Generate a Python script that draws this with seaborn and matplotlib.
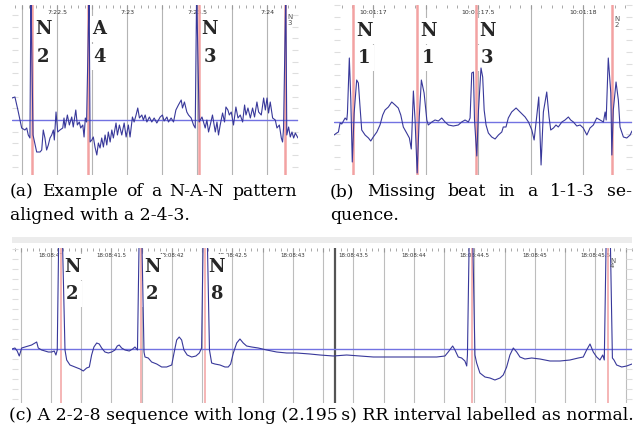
import pandas as pd
import seaborn as sns
import matplotlib.pyplot as plt
from matplotlib.ticker import MultipleLocator, FuncFormatter
from matplotlib.patches import Rectangle

# ---- panel (a): 7:22 - 7:24, times in seconds after 7:00 ----
a_time = [22.179, 22.200, 22.221, 22.248, 22.271, 22.284, 22.295, 22.307, 22.314, 22.329,
          22.355, 22.379, 22.391, 22.402, 22.414, 22.426, 22.438, 22.450, 22.462, 22.474,
          22.481, 22.493, 22.505, 22.521, 22.541, 22.550, 22.557, 22.574, 22.588, 22.605,
          22.616, 22.634, 22.645, 22.659, 22.669, 22.684, 22.693, 22.702, 22.711, 22.729,
          22.736, 22.748, 22.759, 22.771, 22.784, 22.795, 22.807, 22.819, 22.831, 22.843,
          22.855, 22.866, 22.879, 22.891, 22.902, 22.921, 22.931, 22.945, 22.962, 22.979,
          22.993, 23.009, 23.021, 23.038, 23.050, 23.064, 23.076, 23.088, 23.105, 23.116,
          23.129, 23.141, 23.159, 23.176, 23.193, 23.212, 23.236, 23.252, 23.264, 23.284,
          23.295, 23.314, 23.331, 23.348, 23.366, 23.386, 23.395, 23.409, 23.426, 23.438,
          23.457, 23.474, 23.486, 23.496, 23.514, 23.534, 23.545, 23.557, 23.569, 23.581,
          23.593, 23.609, 23.629, 23.641, 23.652, 23.664, 23.681, 23.695, 23.705, 23.719,
          23.729, 23.743, 23.759, 23.776, 23.791, 23.807, 23.824, 23.838, 23.848, 23.862,
          23.879, 23.895, 23.909, 23.926, 23.938, 23.957, 23.974, 23.986, 23.998, 24.009,
          24.021, 24.038, 24.057, 24.069, 24.086, 24.100, 24.109, 24.116, 24.132, 24.139,
          24.152, 24.164, 24.176, 24.188, 24.200, 24.219]
a_amp = [22, 23, 10, -8, -10, -8, -15, -18, 130, -15,
         -32, -32, -30, -10, -18, -30, -25, -18, -15, -10,
         -20, 8, -12, -10, -8, 2, -8, 5, -5, 3,
         -7, 10, -5, -2, -8, -5, -17, 2, -2, 130,
         -22, -20, -17, -27, -35, -23, -28, -18, -27, -15,
         -25, -12, -22, -10, -18, -3, -15, -5, -15, -3,
         -17, -5, -17, 3, -2, 5, 12, 2, 5, 0,
         5, -2, 3, -2, 2, -3, 3, 5, -1, 3,
         -2, 2, -2, 10, 15, 20, 12, 18, 8, 5,
         2, -5, -8, 130, -2, 3, -2, -8, 0, -12,
         -5, 5, -12, -2, -15, -5, 7, -2, 13, 10,
         5, 8, -5, 13, 2, 5, -2, 15, 5, 12,
         2, 12, 3, 18, 8, 5, 22, 10, 22, 7,
         18, 2, 0, -8, -5, -18, -22, -8, 130, -15,
         -7, -17, -12, -18, -13, -18]
a_beats = [22.321, 22.721, 23.511, 24.129]
a_labels = [("N", "2"), ("A", "4"), ("N", "3")]
a_tail = "N\n3"

# ---- panel (b): 10:01:16.8 - 10:01:18.2 ----
b_time = [16.814, 16.827, 16.835, 16.843, 16.851, 16.859, 16.867, 16.875, 16.878, 16.887,
          16.894, 16.901, 16.910, 16.922, 16.930, 16.938, 16.946, 16.962, 16.978, 16.989,
          17.001, 17.018, 17.033, 17.046, 17.057, 17.073, 17.089, 17.105, 17.120, 17.132,
          17.144, 17.160, 17.173, 17.182, 17.192, 17.200, 17.210, 17.220, 17.230, 17.243,
          17.256, 17.263, 17.280, 17.295, 17.311, 17.327, 17.343, 17.359, 17.382, 17.406,
          17.422, 17.438, 17.454, 17.462, 17.470, 17.478, 17.483, 17.494, 17.502, 17.514,
          17.522, 17.529, 17.538, 17.549, 17.565, 17.581, 17.597, 17.613, 17.620, 17.633,
          17.644, 17.660, 17.681, 17.700, 17.724, 17.740, 17.756, 17.767, 17.780, 17.789,
          17.800, 17.811, 17.827, 17.838, 17.846, 17.859, 17.871, 17.882, 17.899, 17.914,
          17.930, 17.941, 17.954, 17.970, 17.986, 18.001, 18.018, 18.033, 18.049, 18.065,
          18.081, 18.097, 18.105, 18.110, 18.120, 18.132, 18.137, 18.144, 18.157, 18.168,
          18.176, 18.192, 18.208, 18.224, 18.233]
b_amp = [-13, -11, -10, -1, -2, 1, 4, 2, 9, 64,
         22, -40, 9, 42, 39, 15, -8, -13, -16, -19,
         -15, -10, -3, 7, 12, 15, 20, 17, 14, 7,
         -5, -11, -16, -27, 31, 2, -51, 5, 42, 29,
         2, -3, 0, 2, 1, 4, 0, -3, -4, -3,
         0, 2, 0, 4, 49, 50, 2, -34, 12, 54,
         45, 12, -3, -11, -15, -17, -13, -10, -5, -5,
         4, 10, 14, 10, 5, 0, -8, -18, 7, 25,
         -43, 10, 30, 5, -8, -6, -3, -5, 0, 2,
         5, 2, 0, -4, -3, -6, -13, -6, -3, 4,
         2, 0, 10, 2, 64, 29, -33, 12, 40, 22,
         -5, -15, -16, -13, -9]
b_beats = [16.905, 17.210, 17.490, 18.138]
b_labels = [("N", "1"), ("N", "1"), ("N", "3")]
b_tail = "N\n2"

# ---- panel (c): 18:08:40.7 - 18:08:45.8 ----
c_time = [40.678, 40.702, 40.721, 40.738, 40.758, 40.785, 40.812, 40.840, 40.868, 40.882,
          40.895, 40.923, 40.950, 40.978, 41.006, 41.027, 41.041, 41.052, 41.066, 41.091,
          41.116, 41.130, 41.157, 41.198, 41.240, 41.267, 41.295, 41.317, 41.336, 41.355,
          41.378, 41.399, 41.419, 41.446, 41.474, 41.502, 41.529, 41.548, 41.564, 41.584,
          41.612, 41.647, 41.675, 41.694, 41.715, 41.731, 41.748, 41.769, 41.777, 41.804,
          41.832, 41.874, 41.915, 41.956, 41.998, 42.017, 42.039, 42.060, 42.080, 42.099,
          42.126, 42.163, 42.198, 42.226, 42.245, 42.260, 42.289, 42.310, 42.328, 42.355,
          42.397, 42.438, 42.465, 42.485, 42.507, 42.535, 42.562, 42.589, 42.617, 42.659,
          42.713, 42.783, 42.865, 42.948, 43.031, 43.140, 43.223, 43.333, 43.444, 43.554,
          43.664, 43.774, 43.884, 43.994, 44.105, 44.188, 44.256, 44.283, 44.320, 44.339,
          44.366, 44.394, 44.421, 44.436, 44.442, 44.459, 44.483, 44.504, 44.518, 44.545,
          44.587, 44.628, 44.669, 44.711, 44.738, 44.766, 44.793, 44.821, 44.849, 44.876,
          44.917, 44.973, 45.041, 45.124, 45.207, 45.289, 45.358, 45.399, 45.427, 45.455,
          45.482, 45.510, 45.537, 45.560, 45.573, 45.591, 45.620, 45.640, 45.653, 45.675,
          45.717, 45.758, 45.802]
c_amp = [0, 1, -2, -7, 1, 2, 3, 4, 6, 7,
         1, -1, -2, -3, -3, -2, -6, -1, 130, 130,
         -1, -11, -16, -18, -20, -22, -19, -18, -6, 2,
         6, 5, 1, -3, -4, -3, -1, 3, 4, 1,
         -1, -2, 0, 2, -1, 130, 130, -3, -8, -9,
         -13, -15, -18, -18, -16, -4, 9, 12, 9, -1,
         -6, -8, -7, -4, 1, 130, 130, -1, -14, -15,
         -16, -18, -18, -15, -4, 6, 10, 6, 3, 2,
         1, -1, -3, -4, -4, -5, -6, -7, -6, -7,
         -8, -8, -8, -8, -8, -8, -7, -3, 3, -1,
         -8, -9, -12, -17, -6, 130, 130, -6, -14, -24,
         -28, -29, -31, -29, -26, -18, -6, 1, -3, -8,
         -10, -9, -10, -12, -12, -11, -9, -8, -1, 5,
         -3, -8, -11, -6, -11, 130, 130, -9, -11, -16,
         -18, -17, -15]
c_beats = [41.083, 41.744, 42.273, 44.479, 45.603]
c_labels = [("N", "2"), ("N", "2"), ("N", "8")]
c_tail = "N\n4"
c_cursor = 43.347

cap_a = ["(a) Example of a N-A-N pattern", "aligned with a 2-4-3."]
cap_b = ["(b) Missing beat in a 1-1-3 se-", "quence."]
cap_c = "(c) A 2-2-8 sequence with long (2.195\u2009s) RR interval labelled as normal."

sns.set_style('white')
plt.rcParams['font.family'] = ['DejaVu Sans']

W, H = 644, 442
fig = plt.figure(figsize=(W / 100, H / 100), dpi=100)


def box(x0, y0, x1, y1):
    return [x0 / W, 1 - y1 / H, (x1 - x0) / W, (y1 - y0) / H]


def panel(rect, t, amp, beats, labels, tail, prefix, ylim, ystep,
          lab_dy, tail_dy, tsize, red_lw, grid_c):
    ax = fig.add_axes(rect)
    df = pd.DataFrame({'time': t, 'amp': amp})
    for b in beats:
        ax.axvline(b, color='#f3a2a2', lw=red_lw, zorder=4)
    ax.axhline(0, color='#7272e2', lw=1.0, zorder=4.5)
    sns.lineplot(data=df, x='time', y='amp', ax=ax, color='#38389a', lw=0.8,
                 estimator=None, sort=False, zorder=5)
    ax.set(xlabel='', ylabel='')
    ax.set_xlim(t[0], t[-1])
    ax.set_ylim(*ylim)
    for s in ax.spines.values():
        s.set_visible(False)

    def fmt(v, pos):
        if abs(v * 2 - round(v * 2)) > 1e-6:
            return ''
        return f"{prefix}{v:g}"
    ax.xaxis.set_major_locator(MultipleLocator(0.25))
    ax.xaxis.set_minor_locator(MultipleLocator(0.05))
    ax.xaxis.set_major_formatter(FuncFormatter(fmt))
    ax.grid(True, axis='x', which='major', color=grid_c, lw=0.8)
    ax.set_axisbelow(True)
    ax.tick_params(axis='x', which='both', top=True, bottom=False, labeltop=True,
                   labelbottom=False, direction='in', color='#9a9a9a',
                   labelsize=tsize, labelcolor='#333333', pad=-7.5)
    ax.tick_params(axis='x', which='major', length=3)
    ax.tick_params(axis='x', which='minor', length=2)
    ax.yaxis.set_major_locator(MultipleLocator(ystep))
    ax.tick_params(axis='y', left=True, right=True, labelleft=False, direction='in',
                   length=4, color='#dedede', width=0.8)

    # beat annotations: class letter and cluster digit, white boxes over the grid
    bb = dict(boxstyle='square,pad=0.22', fc='white', ec='none')
    for b, (sym, num) in zip(beats, labels):
        for txt, dy in ((sym, lab_dy[0]), (num, lab_dy[1])):
            ax.annotate(txt, xy=(b, 1), xycoords=('data', 'axes fraction'),
                        xytext=(8, dy), textcoords='offset points', ha='center', va='top',
                        family='DejaVu Serif', fontweight='bold', fontsize=13,
                        bbox=bb, zorder=3)
    ax.annotate(tail, xy=(beats[-1], 1), xycoords=('data', 'axes fraction'),
                xytext=(1.5, tail_dy), textcoords='offset points', ha='left', va='top',
                fontsize=5, color='#555555', linespacing=0.9, zorder=6)
    return ax


panel(box(12, 5, 298, 175), a_time, a_amp, a_beats, a_labels, a_tail, "7:",
      (-55, 115), 11.67, (-10.8, -31), -6.5, 4.5, 1.8, '#b4b4b4')
panel(box(334, 5, 632, 175), b_time, b_amp, b_beats, b_labels, b_tail, "10:01:",
      (-53, 117), 11.67, (-12, -32), -8, 4.5, 1.8, '#b4b4b4')
ax_c = panel(box(12, 248, 632, 403), c_time, c_amp, c_beats, c_labels, c_tail, "18:08:",
             (-54, 101), 10, (-7.2, -26.6), -7, 4, 1.1, '#bdbdbd')
ax_c.axvline(c_cursor, color='#555555', lw=1.6, zorder=4)

# toolbar strip above panel (c)
fig.patches.append(Rectangle((12 / W, 1 - 243 / H), 620 / W, 6 / H,
                             transform=fig.transFigure, fc='#ececec', ec='none'))

# captions
serif = dict(family='DejaVu Serif', fontsize=12.4, va='baseline', color='black')
renderer = fig.canvas.get_renderer()


def justified(line, x0, x1, y):
    words = line.split(' ')
    texts = [fig.text(0, 0, w, **serif) for w in words]
    widths = [t.get_window_extent(renderer).width for t in texts]
    gap = ((x1 - x0) - sum(widths)) / (len(words) - 1)
    x = x0
    for t, w in zip(texts, widths):
        t.set_position((x / W, 1 - y / H))
        x += w + gap


justified(cap_a[0], 10, 297, 196)
fig.text(10 / W, 1 - 220.5 / H, cap_a[1], ha='left', **serif)
justified(cap_b[0], 330, 632, 196)
fig.text(330 / W, 1 - 220.5 / H, cap_b[1], ha='left', **serif)
fig.text(321 / W, 1 - 419.5 / H, cap_c, ha='center', **serif)

fig.savefig('out.png', dpi=100, facecolor='white')
